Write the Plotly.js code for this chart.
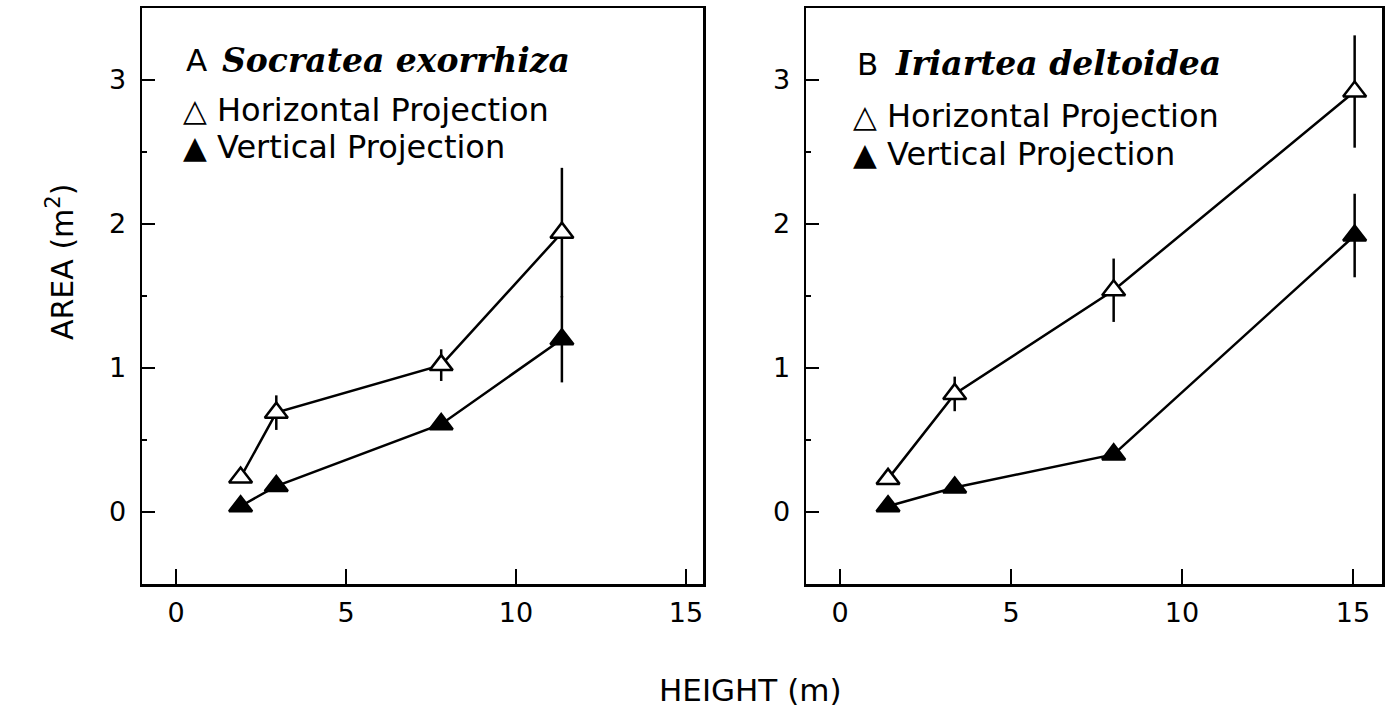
<!DOCTYPE html>
<html>
<head>
<meta charset="utf-8">
<script src="https://cdn.plot.ly/plotly-3.0.1.min.js"></script>
<style>html,body{margin:0;padding:0;background:#fff;}#chart{width:1392px;height:715px;}</style>
</head>
<body>
<div id="chart"></div>
<script>
// ---- Data ----
// Panel A: Socratea exorrhiza
const socrateaHeight = [1.9, 2.95, 7.8, 11.35];
const socrateaHorizontal = [0.24, 0.69, 1.02, 1.94];
const socrateaHorizontalErr = [0, 0.12, 0.11, 0.45];
const socrateaVertical = [0.04, 0.18, 0.61, 1.20];
const socrateaVerticalErr = [0, 0, 0, 0.30];

// Panel B: Iriartea deltoidea
const iriarteaHeight = [1.4, 3.35, 8.0, 15.05];
const iriarteaHorizontal = [0.23, 0.82, 1.54, 2.92];
const iriarteaHorizontalErr = [0, 0.12, 0.22, 0.39];
const iriarteaVertical = [0.04, 0.17, 0.40, 1.92];
const iriarteaVerticalErr = [0, 0, 0, 0.29];

const xTicks = [0, 5, 10, 15];
const yTicks = [0, 1, 2, 3];
const seriesNames = ['Horizontal Projection', 'Vertical Projection'];
const panelLetters = ['A', 'B'];
const speciesNames = ['Socratea exorrhiza', 'Iriartea deltoidea'];
const xTitle = 'HEIGHT (m)';
const yTitle = 'AREA (m<sup>2</sup>)';

// ---- Layout helpers ----
const W = 1392, H = 715;
const px = v => v / W;
const py = v => 1 - v / H;
const LW = 2.5;
const sans = 'DejaVu Sans, sans-serif';
const serif = 'DejaVu Serif, serif';

function series(x, y, err, filled, xa, ya, name) {
  return {
    type: 'scatter', mode: 'lines+markers', name: name, showlegend: false,
    x: x, y: y, xaxis: xa, yaxis: ya,
    line: {color: 'black', width: LW},
    marker: {symbol: 'triangle-up', size: 20, color: filled ? 'black' : 'white',
             line: {color: 'black', width: LW}},
    error_y: {type: 'data', array: err, visible: true, thickness: LW, width: 0, color: 'black'},
    cliponaxis: false
  };
}

const traces = [
  series(socrateaHeight, socrateaHorizontal, socrateaHorizontalErr, false, 'x', 'y', seriesNames[0]),
  series(socrateaHeight, socrateaVertical, socrateaVerticalErr, true, 'x', 'y', seriesNames[1]),
  series(iriarteaHeight, iriarteaHorizontal, iriarteaHorizontalErr, false, 'x2', 'y2', seriesNames[0]),
  series(iriarteaHeight, iriarteaVertical, iriarteaVerticalErr, true, 'x2', 'y2', seriesNames[1])
];

function xAxis(domain, range, anchor) {
  return {
    domain: domain, range: range, anchor: anchor,
    tickvals: xTicks, ticktext: xTicks.map(String),
    ticks: 'inside', ticklen: 15, tickwidth: LW, tickcolor: 'black',
    showline: true, linewidth: LW, linecolor: 'black', mirror: true,
    showgrid: false, zeroline: false, ticklabelstandoff: 3,
    tickfont: {family: sans, size: 27, color: 'black'}
  };
}
function yAxis(domain, anchor) {
  return {
    domain: domain, range: [-0.5, 3.5], anchor: anchor,
    tickvals: yTicks, ticktext: yTicks.map(String),
    ticks: 'inside', ticklen: 13, tickwidth: LW, tickcolor: 'black',
    minor: {tick0: 0.5, dtick: 1, ticks: 'inside', ticklen: 5, tickwidth: LW, tickcolor: 'black', showgrid: false},
    showline: true, linewidth: LW, linecolor: 'black', mirror: true,
    showgrid: false, zeroline: false, ticklabelstandoff: 8,
    tickfont: {family: sans, size: 27, color: 'black'}
  };
}

const yDom = [py(584), py(8)];

function ann(text, x, y, opts) {
  return Object.assign({
    text: text, xref: 'paper', yref: 'paper', x: px(x), y: py(y),
    xanchor: 'left', yanchor: 'middle', showarrow: false, borderpad: 0,
    font: {family: sans, size: 32, color: 'black'}
  }, opts || {});
}

const panelText = [
  {x0: 185, sx: 221, ty: 60, tri: 195, tx: 216, r1: 110, r2: 147.5},
  {x0: 856, sx: 894, ty: 64, tri: 865, tx: 886, r1: 116, r2: 153.5}
];
const annotations = [];
panelText.forEach((p, i) => {
  annotations.push(ann(panelLetters[i], p.x0, p.ty, {font: {family: sans, size: 31, color: 'black'}}));
  annotations.push(ann(speciesNames[i], p.sx, p.ty,
    {font: {family: serif, size: 33, color: 'black', weight: 'bold', style: 'italic'}}));
  annotations.push(ann('\u25B3', p.tri, p.r1, {xanchor: 'center', font: {family: sans, size: 31, color: 'black', weight: 'bold'}}));
  annotations.push(ann('\u25B2', p.tri, p.r2, {xanchor: 'center', font: {family: sans, size: 31, color: 'black', weight: 'bold'}}));
  annotations.push(ann(seriesNames[0], p.tx, p.r1));
  annotations.push(ann(seriesNames[1], p.tx, p.r2));
});
annotations.push(ann(xTitle, 750, 690, {xanchor: 'center', font: {family: sans, size: 31, color: 'black'}}));
annotations.push(ann(yTitle, 60, 262, {xanchor: 'center', textangle: -90, font: {family: sans, size: 30, color: 'black'}}));

const layout = {
  width: W, height: H,
  margin: {l: 0, r: 0, t: 0, b: 0},
  paper_bgcolor: 'white', plot_bgcolor: 'white',
  showlegend: false,
  xaxis: xAxis([px(142), px(703)], [-1, 15.5], 'y'),
  yaxis: yAxis(yDom, 'x'),
  xaxis2: xAxis([px(806), px(1382)], [-1, 15.85], 'y2'),
  yaxis2: yAxis(yDom, 'x2'),
  annotations: annotations
};

Plotly.newPlot('chart', traces, layout, {displayModeBar: false, staticPlot: true});
</script>
</body>
</html>
